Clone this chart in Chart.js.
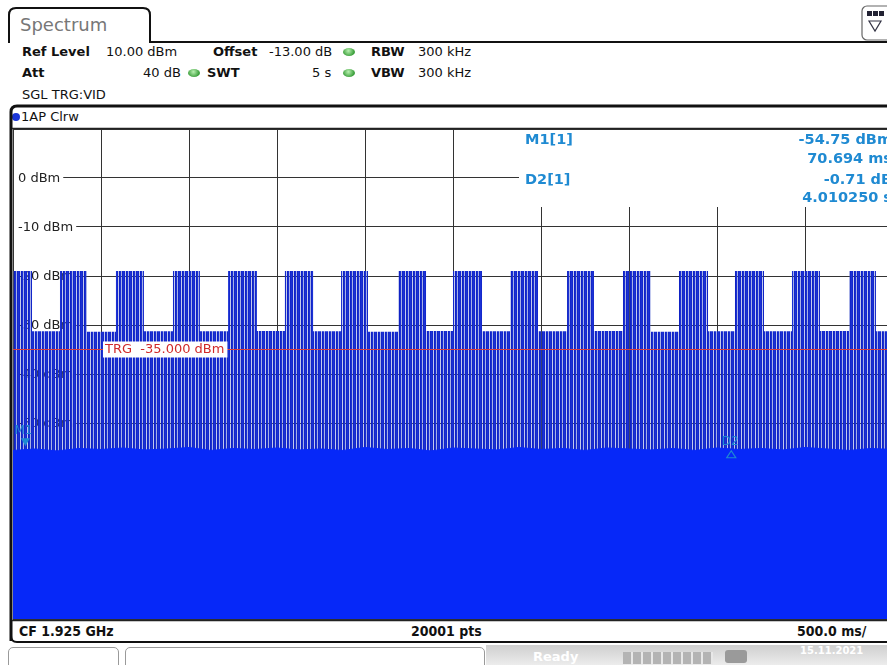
<!DOCTYPE html>
<html>
<head>
<meta charset="utf-8">
<script src="https://cdn.jsdelivr.net/npm/chart.js@4.4.1/dist/chart.umd.min.js"></script>
<style>
  html, body { margin: 0; padding: 0; width: 887px; height: 665px; overflow: hidden; background: #fff; font-family: 'DejaVu Sans', sans-serif; }
  .t { position: absolute; white-space: nowrap; font-size: 13px; line-height: 16px; color: #111; }
  .b { font-weight: bold; }
  .led { position: absolute; width: 12px; height: 8px; border-radius: 50%; background: radial-gradient(circle at 45% 35%, #b8f0b0, #3a9e3a 70%); }
  .foot { position: absolute; top: 622px; font-family: 'DejaVu Sans Condensed', 'DejaVu Sans', sans-serif; font-size: 14px; font-weight: bold; color: #111; white-space: nowrap; line-height: 18px; }
  #wrap { position: absolute; left: 0; top: 128px; width: 900px; height: 492px; }
  #frame { position: absolute; left: 0; top: 0; pointer-events: none; }
</style>
</head>
<body>
<div class="t" style="left:20px;top:15px;font-size:18px;line-height:20px;color:#777;">Spectrum</div>

<div class="t b" style="left:22px;top:44px;">Ref Level</div>
<div class="t" style="left:106px;top:44px;">10.00 dBm</div>
<div class="t b" style="left:213px;top:44px;">Offset</div>
<div class="t" style="left:269px;top:44px;">-13.00 dB</div>
<div class="led" style="left:343px;top:48px;"></div>
<div class="t b" style="left:371px;top:44px;">RBW</div>
<div class="t" style="left:418px;top:44px;">300 kHz</div>

<div class="t b" style="left:22px;top:65px;">Att</div>
<div class="t" style="left:143px;top:65px;">40 dB</div>
<div class="led" style="left:188px;top:69px;"></div>
<div class="t b" style="left:207px;top:65px;">SWT</div>
<div class="t" style="left:312px;top:65px;">5 s</div>
<div class="led" style="left:343px;top:69px;"></div>
<div class="t b" style="left:371px;top:65px;">VBW</div>
<div class="t" style="left:418px;top:65px;">300 kHz</div>

<div class="t" style="left:22px;top:87px;">SGL TRG:VID</div>

<div style="position:absolute;left:12px;top:113px;width:8px;height:8px;border-radius:50%;background:#1b36d8;"></div>
<div class="t" style="left:21px;top:109px;">1AP Clrw</div>

<div id="wrap"><canvas id="trace"></canvas></div>

<div class="foot" style="left:19px;">CF 1.925 GHz</div>
<div class="foot" style="left:411px;">20001 pts</div>
<div class="foot" style="left:797px;">500.0 ms/</div>

<div style="position:absolute;left:8px;top:647px;width:109px;height:22px;border:1px solid #9a9a9a;border-radius:5px 5px 0 0;background:#fff;"></div>
<div style="position:absolute;left:125px;top:647px;width:358px;height:22px;border:1px solid #9a9a9a;border-radius:5px 5px 0 0;background:#fff;"></div>
<div style="position:absolute;left:486px;top:645px;width:401px;height:20px;background:linear-gradient(#cfcfcf,#ececec);"></div>
<div class="t b" style="left:533px;top:649px;color:#fff;">Ready</div>
<div style="position:absolute;left:623px;top:652px;width:90px;height:12px;background:repeating-linear-gradient(90deg,#b4b4b4 0 8px,#e8e8e8 8px 10px);"></div>
<div style="position:absolute;left:725px;top:650px;width:22px;height:13px;background:#9a9a9a;border-radius:3px;"></div>
<div class="t" style="left:800px;top:645px;font-size:10px;line-height:12px;color:#fff;font-weight:bold;">15.11.2021</div>

<svg id="frame" width="887" height="665">
  <path d="M9,43 L9,15 Q9,8 16,8 L143,8 Q150,8 150,15 L150,42 L887,42" fill="none" stroke="#111" stroke-width="2"/>
  <path d="M11,641 L11,112 Q11,106 17,106 L887,106" fill="none" stroke="#111" stroke-width="3"/>
  <line x1="12" y1="128.5" x2="887" y2="128.5" stroke="#222" stroke-width="1.5"/>
  <line x1="12" y1="620.5" x2="887" y2="620.5" stroke="#222" stroke-width="1.5"/>
  <path d="M11,636 Q11,642 17,642 L887,642" fill="none" stroke="#111" stroke-width="2"/>
  <rect x="862" y="6" width="30" height="34" rx="5" fill="#fff" stroke="#666" stroke-width="1.2"/>
  <rect x="867" y="11" width="5" height="5" fill="#223" /><rect x="873" y="11" width="5" height="5" fill="#223" /><rect x="879" y="11" width="5" height="5" fill="#223" />
  <path d="M869,21 L881,21 L875,31 Z" fill="none" stroke="#334" stroke-width="1.2"/>
</svg>

<script>
// sweep: 0 .. 5000 ms (500 ms/div), level: 10 .. -90 dBm (10 dB/div)
const burstStartMs = [0, 267, 585, 909, 1222, 1545, 1864, 2188, 2500, 2824, 3148, 3466, 3784, 4102, 4426, 4750];
const burstEndMs   = [108, 420, 744, 1062, 1386, 1705, 2017, 2347, 2665, 2983, 3301, 3625, 3949, 4267, 4585, 4903];
const burstTopDbm  = [-19.0, -19.0, -19.0, -19.0, -19.0, -19.0, -19.0, -19.0, -19.0, -19.0, -19.0, -19.0, -19.0, -19.0, -19.0, -19.0];
const gapTopDbm    = [-31.3, -31.4, -31.3, -31.3, -31.2, -31.3, -31.4, -31.2, -31.3, -31.3, -31.2, -31.4, -31.3, -31.3, -31.2, -31.3];

const floorMs  = [0, 125, 250, 375, 500, 625, 750, 875, 1000, 1125, 1250, 1375, 1500, 1625, 1750, 1875, 2000,
                  2125, 2250, 2375, 2500, 2625, 2750, 2875, 3000, 3125, 3250, 3375, 3500, 3625, 3750, 3875, 4000,
                  4125, 4250, 4375, 4500, 4625, 4750, 4875, 5000];
const floorDbm = [-55.6, -55.3, -55.7, -55.2, -55.4, -55.1, -55.5, -55.3, -55.0, -55.6, -55.2, -55.4, -55.1, -55.5, -55.3, -55.6, -55.0,
                  -55.4, -55.2, -55.7, -55.1, -55.3, -55.5, -55.0, -55.4, -55.2, -55.6, -55.1, -55.3, -55.5, -55.2, -55.6, -55.1,
                  -55.4, -55.2, -55.5, -55.0, -55.3, -55.6, -55.2, -55.4];

const yLabelDbm = [0, -10, -20, -30, -40, -50];
const trgDbm = -35;
const m1 = { t: 70.694, level: -54.75 };
const d2 = { dt: 4010.250, dLevel: -0.71 };

// envelope of the spikes (bursts and the gaps between them)
const envelope = [];
burstStartMs.forEach((s, i) => {
  const gapEnd = i + 1 < burstStartMs.length ? burstStartMs[i + 1] : 5000;
  envelope.push({ x: s, y: burstTopDbm[i] }, { x: burstEndMs[i], y: burstTopDbm[i] });
  envelope.push({ x: burstEndMs[i], y: gapTopDbm[i] }, { x: gapEnd, y: gapTopDbm[i] });
});
const floor = floorMs.map((t, i) => ({ x: t, y: floorDbm[i] }));

// vertical stripes look of the dense trace
const tile = document.createElement('canvas');
tile.width = 7; tile.height = 1;
const tc = tile.getContext('2d');
const stripes = ['#0f22c4', '#1a30d2', 'rgba(60,80,200,0.45)', '#1226c8', '#1c32d4', '#1428cc', 'rgba(80,100,210,0.35)'];
stripes.forEach((c, i) => { tc.fillStyle = c; tc.fillRect(i, 0, 1, 1); });

const ctx = document.getElementById('trace').getContext('2d');
const stripePattern = ctx.createPattern(tile, 'repeat');

const markerBlue = '#1f8ad2';

const overlay = {
  id: 'overlay',
  beforeDatasetsDraw(chart) {
    const { ctx, chartArea: a, scales: { y } } = chart;
    ctx.save();
    ctx.fillStyle = '#fff';
    ctx.fillRect(a.left + 506, a.top + 1, a.right - a.left - 506, 77);
    ctx.font = '13px "DejaVu Sans"';
    ctx.textBaseline = 'middle';
    yLabelDbm.forEach(v => {
      const py = y.getPixelForValue(v);
      const label = v + ' dBm';
      const w = ctx.measureText(label).width;
      ctx.fillStyle = '#fff';
      ctx.fillRect(a.left + 1, py - 7, w + 7, 14);
      ctx.fillStyle = '#222';
      ctx.fillText(label, a.left + 5, py + 0.5);
    });
    ctx.restore();
  },
  afterDatasetsDraw(chart) {
    const { ctx, chartArea: a, scales: { x, y } } = chart;
    ctx.save();
    const ty = Math.round(y.getPixelForValue(trgDbm)) + 0.5;
    ctx.strokeStyle = '#d83c3c';
    ctx.lineWidth = 1;
    ctx.beginPath(); ctx.moveTo(a.left, ty); ctx.lineTo(a.right, ty); ctx.stroke();
    ctx.font = '13px "DejaVu Sans"';
    ctx.textBaseline = 'middle';
    const trg = 'TRG  -35.000 dBm';
    const tw = ctx.measureText(trg).width;
    ctx.fillStyle = '#fff';
    ctx.fillRect(a.left + 90, ty - 8, tw + 5, 16);
    ctx.fillStyle = '#d02a2a';
    ctx.fillText(trg, a.left + 92, ty + 0.5);

    // M1
    ctx.fillStyle = markerBlue;
    ctx.strokeStyle = markerBlue;
    const mx = x.getPixelForValue(m1.t), my = y.getPixelForValue(m1.level);
    ctx.beginPath(); ctx.moveTo(mx - 4.5, my - 8); ctx.lineTo(mx + 4.5, my - 8); ctx.lineTo(mx, my); ctx.closePath(); ctx.fill();
    ctx.font = '12px "DejaVu Sans"';
    ctx.textAlign = 'center';
    ctx.fillText('M1', mx - 2, my - 15);
    // D2
    const dx = x.getPixelForValue(m1.t + d2.dt), dy = y.getPixelForValue(m1.level + d2.dLevel);
    ctx.lineWidth = 1.2;
    ctx.beginPath(); ctx.moveTo(dx, dy + 1); ctx.lineTo(dx + 4.5, dy + 8); ctx.lineTo(dx - 4.5, dy + 8); ctx.closePath(); ctx.stroke();
    ctx.fillText('D2', dx - 1, dy - 8);
    ctx.restore();
  },
  afterDraw(chart) {
    const { ctx, chartArea: a } = chart;
    ctx.save();
    ctx.fillStyle = markerBlue;
    ctx.font = 'bold 14.5px "DejaVu Sans"';
    ctx.textBaseline = 'middle';
    const lx = a.left + 512, rx = a.right - 1;
    ctx.textAlign = 'left';
    ctx.fillText('M1[1]', lx, a.top + 11);
    ctx.fillText('D2[1]', lx, a.top + 51);
    ctx.textAlign = 'right';
    ctx.fillText('-54.75 dBm', rx, a.top + 11);
    ctx.fillText('70.694 ms', rx, a.top + 30);
    ctx.fillText('-0.71 dB', rx, a.top + 51);
    ctx.fillText('4.010250 s', rx, a.top + 69);
    ctx.restore();
  }
};

new Chart(ctx, {
  type: 'line',
  data: {
    datasets: [
      {
        label: 'floor',
        data: floor,
        borderColor: '#0628f8',
        borderWidth: 1,
        backgroundColor: '#0628f8',
        fill: 'start',
        pointRadius: 0,
        tension: 0
      },
      {
        label: '1AP Clrw',
        data: envelope,
        borderWidth: 0,
        borderColor: 'rgba(0,0,0,0)',
        backgroundColor: stripePattern,
        fill: 'start',
        pointRadius: 0,
        tension: 0
      }
    ]
  },
  options: {
    responsive: true,
    maintainAspectRatio: false,
    animation: false,
    events: [],
    layout: { padding: { left: 13, right: 7, top: 1, bottom: 1 } },
    plugins: { legend: { display: false }, tooltip: { enabled: false } },
    scales: {
      x: {
        type: 'linear', min: 0, max: 5000,
        ticks: { display: false, stepSize: 500 },
        grid: { color: '#333', lineWidth: 1, drawTicks: false },
        border: { display: false },
        afterFit: s => { s.height = 0; }
      },
      y: {
        type: 'linear', min: -90, max: 10,
        ticks: { display: false, stepSize: 10 },
        grid: { color: '#333', lineWidth: 1, drawTicks: false },
        border: { display: false },
        afterFit: s => { s.width = 0; }
      }
    }
  },
  plugins: [overlay]
});
</script>
</body>
</html>
